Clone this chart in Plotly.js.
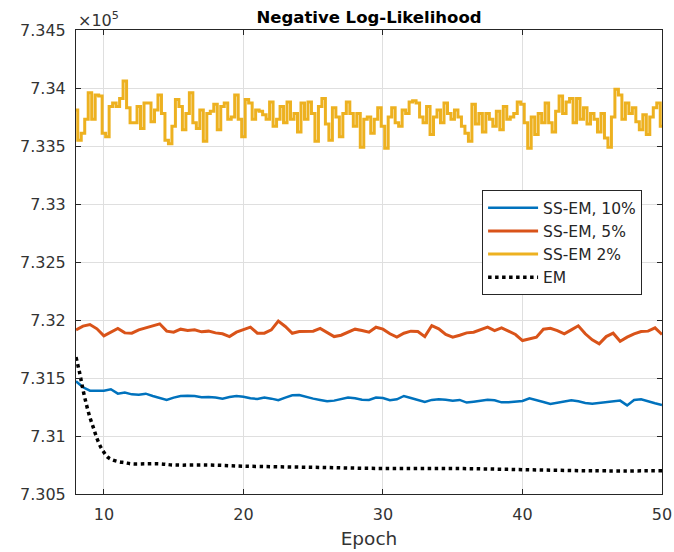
<!DOCTYPE html>
<html>
<head>
<meta charset="utf-8">
<script src="https://cdn.plot.ly/plotly-3.0.1.min.js"></script>
<style>html,body{margin:0;padding:0;background:#fff}#chart{width:674px;height:552px}</style>
</head>
<body>
<div id="chart"></div>
<script>
// Values in units of 1e5
const epochsFine = Array.from({length: 169}, (_, i) => 8 + i * 0.25);
const epochsHalf = Array.from({length: 85}, (_, i) => 8 + i * 0.5);

const ss2 = [
 7.3381,7.3355,7.3361,7.3373,7.3396,7.3373,7.3394,7.3393,7.3361,7.3358,
 7.3384,7.3387,7.3384,7.3391,7.3406,7.3383,7.3370,7.3370,7.3384,7.3365,
 7.3387,7.3387,7.3371,7.3381,7.3394,7.3378,7.3355,7.3352,7.3367,7.3390,
 7.3384,7.3364,7.3378,7.3396,7.3370,7.3365,7.3381,7.3354,7.3378,7.3380,
 7.3386,7.3364,7.3384,7.3387,7.3373,7.3375,7.3394,7.3373,7.3358,7.3390,
 7.3387,7.3373,7.3381,7.3380,7.3377,
 7.3373,7.3388,7.3367,7.3373,7.3384,7.3370,7.3388,7.3373,7.3378,7.3362,
 7.3387,7.3373,7.3388,7.3378,7.3354,7.3384,7.3391,7.3369,7.3355,7.3383,
 7.3375,7.3358,7.3378,7.3388,7.3378,7.3367,7.3378,7.3349,7.3373,7.3375,
 7.3361,7.3373,7.3383,7.3367,7.3348,7.3375,7.3383,7.3370,7.3367,7.3381,
 7.3378,7.3388,7.3389,7.3387,7.3375,7.3370,7.3384,7.3360,7.3375,7.3381,
 7.3370,7.3387,7.3378,7.3373,7.3381,
 7.3375,7.3367,7.3361,7.3354,7.3386,7.3369,7.3378,7.3362,7.3378,7.3373,
 7.3367,7.3380,7.3364,7.3384,7.3373,7.3375,7.3378,7.3388,7.3386,7.3370,
 7.3348,7.3375,7.3360,7.3378,7.3370,7.3387,7.3370,7.3362,7.3380,7.3393,
 7.3378,7.3388,7.3391,7.3370,7.3391,7.3373,7.3383,7.3369,7.3378,7.3373,
 7.3362,7.3378,7.3357,7.3349,7.3375,7.3399,7.3394,7.3373,7.3387,7.3378,
 7.3383,7.3371,7.3364,7.3377,7.3360,7.3375,7.3383,7.3387,7.3367
];

const ss5 = [
 7.31915,7.31947,7.31961,7.31924,7.31863,7.31895,7.31927,7.31889,7.31886,7.31915,
 7.31932,7.31955,7.31967,7.31904,7.31895,7.31921,7.31909,7.31915,7.31898,7.31904,
 7.31889,7.31881,7.31857,7.31895,7.31915,7.31938,7.31886,
 7.31886,7.31915,7.31990,7.31944,7.31886,7.31901,7.31904,7.31904,7.31927,7.31889,
 7.31857,7.31869,7.31898,7.31921,7.31909,7.31895,7.31938,7.31921,7.31881,7.31852,
 7.31886,7.31904,7.31901,7.31857,7.31952,7.31924,7.31875,7.31852,
 7.31869,7.31889,7.31895,7.31918,7.31938,7.31909,7.31932,7.31904,7.31875,7.31823,
 7.31837,7.31852,7.31921,7.31929,7.31909,7.31881,7.31915,7.31950,7.31881,7.31829,
 7.31794,7.31857,7.31886,7.31817,7.31852,7.31881,7.31901,7.31904,7.31932,7.31875
];

const ss10 = [
 7.31472,7.31420,7.31391,7.31388,7.31391,7.31403,7.31365,7.31374,7.31359,7.31356,
 7.31365,7.31345,7.31328,7.31311,7.31331,7.31345,7.31348,7.31345,7.31334,7.31336,
 7.31331,7.31322,7.31336,7.31345,7.31339,7.31325,7.31319,
 7.31331,7.31322,7.31308,7.31331,7.31351,7.31353,7.31336,7.31322,7.31311,7.31299,
 7.31305,7.31316,7.31331,7.31325,7.31313,7.31311,7.31331,7.31328,7.31308,7.31316,
 7.31345,7.31328,7.31308,7.31293,7.31311,7.31316,7.31313,7.31305,
 7.31311,7.31288,7.31296,7.31305,7.31313,7.31308,7.31290,7.31290,7.31296,7.31302,
 7.31325,7.31311,7.31293,7.31276,7.31288,7.31299,7.31308,7.31299,7.31285,7.31279,
 7.31285,7.31293,7.31299,7.31305,7.31264,7.31311,7.31316,7.31302,7.31282,7.31267
];

const emEpochs = [8,8.25,8.5,8.75,9,9.25,9.5,9.75,10,10.25,10.5,11,11.5,12,13,14,15,17.5,20,25,30,35,40,45,50];
const emVals = [7.3168,7.3155,7.3140,7.3127,7.3116,7.3107,7.3098,7.3091,7.3086,7.3082,7.3080,7.3078,7.3077,7.3076,7.3076,7.3076,7.3075,7.3075,7.3074,7.3073,7.3072,7.3072,7.3071,7.3070,7.3070];

const yTickVals = [7.305,7.31,7.315,7.32,7.325,7.33,7.335,7.34,7.345];
const yTickText = ['7.305','7.31','7.315','7.32','7.325','7.33','7.335','7.34','7.345'];
const xTickVals = [10,20,30,40,50];
const seriesNames = ['SS-EM, 10%','SS-EM, 5%','SS-EM 2%','EM'];

const FONT = 'DejaVu Sans, sans-serif';
const AX = '#262626';

const data = [
  {x: epochsHalf, y: ss10, name: seriesNames[0], mode: 'lines', line: {color: '#0072BD', width: 2.5}},
  {x: epochsHalf, y: ss5, name: seriesNames[1], mode: 'lines', line: {color: '#D95319', width: 3}},
  {x: epochsFine, y: ss2, name: seriesNames[2], mode: 'lines', line: {color: '#EDB120', width: 3, shape: 'hvh'}},
  {x: emEpochs, y: emVals, name: seriesNames[3], mode: 'lines', line: {color: '#000000', width: 3.5, dash: 'dot', shape: 'spline'}}
];

const axisCommon = {
  showline: true, linecolor: AX, linewidth: 1, mirror: 'ticks',
  ticks: 'inside', ticklen: 5, tickcolor: AX, tickwidth: 1,
  showgrid: true, gridcolor: '#dfdfdf', gridwidth: 1, zeroline: false,
  tickfont: {family: FONT, size: 16, color: '#333333'}
};

const layout = {
  width: 674, height: 552,
  margin: {l: 76, r: 12, t: 30, b: 58, pad: 0},
  paper_bgcolor: '#ffffff', plot_bgcolor: '#ffffff',
  showlegend: true,
  title: {text: '<b>Negative Log-Likelihood</b>', font: {family: FONT, size: 16.5, color: '#000'},
          x: 0.5, xref: 'paper', xanchor: 'center', y: 1 - 17/552, yref: 'container', yanchor: 'middle'},
  xaxis: Object.assign({}, axisCommon, {range: [8, 50], tickvals: xTickVals, ticklabelstandoff: 6,
    title: {text: 'Epoch', font: {family: FONT, size: 18.5, color: '#333333'}, standoff: 8}}),
  yaxis: Object.assign({}, axisCommon, {range: [7.305, 7.345], tickvals: yTickVals, ticktext: yTickText, ticklabelstandoff: 6}),
  legend: {x: 0.966, xanchor: 'right', y: 0.6548, yanchor: 'top', bgcolor: '#ffffff',
           bordercolor: AX, borderwidth: 1, font: {family: FONT, size: 15.5, color: '#262626'},
           itemwidth: 50, tracegroupgap: 0},
  annotations: [{text: '×10<sup>5</sup>', xref: 'paper', yref: 'paper', x: 0, y: 1, xanchor: 'left', yanchor: 'bottom',
                 showarrow: false, font: {family: FONT, size: 16, color: '#333333'}, yshift: -2}]
};

Plotly.newPlot('chart', data, layout, {staticPlot: true});
</script>
</body>
</html>
